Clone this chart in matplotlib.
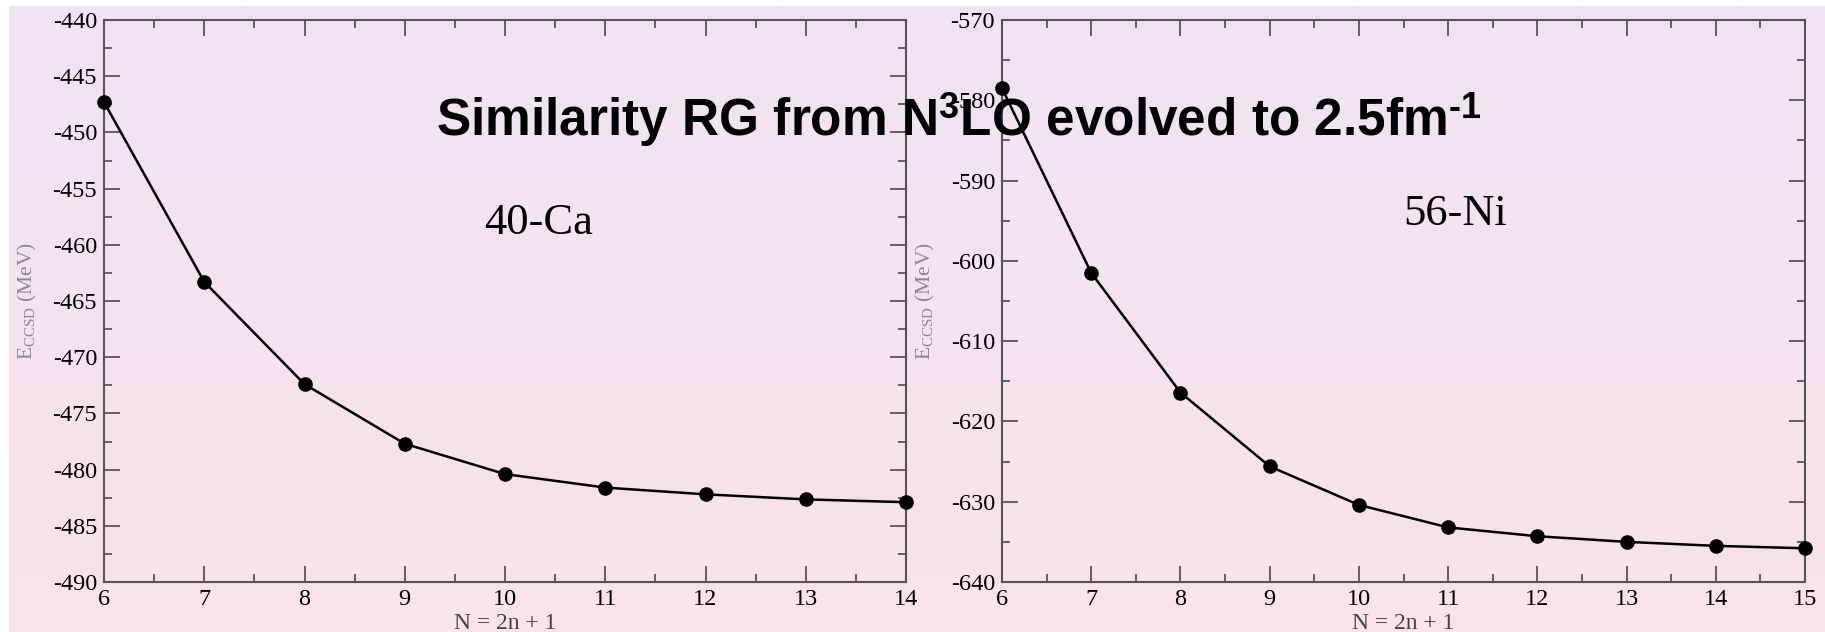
import numpy as np
import matplotlib
matplotlib.use("Agg")
import matplotlib.pyplot as plt
from matplotlib.ticker import MultipleLocator

# CCSD ground-state energies vs. oscillator shells N = 2n + 1
n_ca = [6, 7, 8, 9, 10, 11, 12, 13, 14]
e_ca = [-447.3, -463.3, -472.4, -477.7, -480.4, -481.6, -482.2, -482.65, -482.9]

n_ni = [6, 7, 8, 9, 10, 11, 12, 13, 14, 15]
e_ni = [-578.5, -601.5, -616.4, -625.6, -630.4, -633.2, -634.3, -635.0, -635.5, -635.8]

plt.rcParams["font.family"] = ["Liberation Serif", "DejaVu Serif"]
plt.rcParams["axes.unicode_minus"] = False
plt.rcParams["mathtext.fontset"] = "custom"
plt.rcParams["mathtext.rm"] = "Liberation Serif"
plt.rcParams["mathtext.it"] = "Liberation Serif:italic"
plt.rcParams["mathtext.bf"] = "Liberation Sans:bold"

fig = plt.figure(figsize=(18.25, 6.32), dpi=100)
fig.patch.set_facecolor("white")

# pale lavender-to-pink backdrop
bg = fig.add_axes([9 / 1825, 0, 1 - 9 / 1825, 1 - 6 / 632], zorder=-10)
grad = np.linspace(0, 1, 256)[:, None]
top = np.array([0xef, 0xe4, 0xf2]) / 255
bot = np.array([0xfa, 0xe2, 0xe8]) / 255
img = top[None, None, :] * (1 - grad[:, :, None]) + bot[None, None, :] * grad[:, :, None]
bg.imshow(img, aspect="auto", extent=[0, 1, 0, 1], origin="upper")
bg.axis("off")

spine_col = "#555555"


def style_axes(ax, xlim, ylim, ymaj, ymin):
    ax.set_facecolor("none")
    ax.set_xlim(*xlim)
    ax.set_ylim(*ylim)
    ax.xaxis.set_major_locator(MultipleLocator(1))
    ax.xaxis.set_minor_locator(MultipleLocator(0.5))
    ax.yaxis.set_major_locator(MultipleLocator(ymaj))
    ax.yaxis.set_minor_locator(MultipleLocator(ymin))
    for s in ax.spines.values():
        s.set_color(spine_col)
        s.set_linewidth(1.5)
    ax.tick_params(which="both", direction="in", top=True, right=True,
                   color=spine_col, width=1.3, labelsize=17.5, pad=5)
    ax.tick_params(which="major", length=11.5)
    ax.tick_params(which="minor", length=6)
    ax.set_xlabel("N = 2n + 1", fontsize=17, color="#444444", labelpad=2)
    ax.set_ylabel(r"E$_{\rm CCSD}$ (MeV)", fontsize=15.5, color="#8a8a8a")
    ax.yaxis.set_label_coords(-0.081, 0.5)


ax1 = fig.add_axes([104 / 1825, 50 / 632, 802 / 1825, 562 / 632])
ax1.plot(n_ca, e_ca, color="black", lw=1.8, marker="o", ms=9.5, clip_on=False, zorder=5)
style_axes(ax1, (6, 14), (-490, -440), 5, 2.5)
ax1.text(0.542, 0.639, "40-Ca", transform=ax1.transAxes, fontsize=32,
         ha="center", va="center")

ax2 = fig.add_axes([1002 / 1825, 50 / 632, 803 / 1825, 562 / 632])
ax2.plot(n_ni, e_ni, color="black", lw=1.8, marker="o", ms=9.5, clip_on=False, zorder=5)
style_axes(ax2, (6, 15), (-640, -570), 10, 5)
ax2.text(0.564, 0.655, "56-Ni", transform=ax2.transAxes, fontsize=32,
         ha="center", va="center")

fig.text(959 / 1825, 1 - 120 / 632,
         "Similarity RG from N$^{\\mathbf{3}}$LO evolved to 2.5fm$^{\\mathbf{\u20101}}$",
         family=["Liberation Sans", "DejaVu Sans"], fontweight="bold", fontsize=37,
         ha="center", va="center", zorder=20)

fig.savefig("out.png", dpi=100)
